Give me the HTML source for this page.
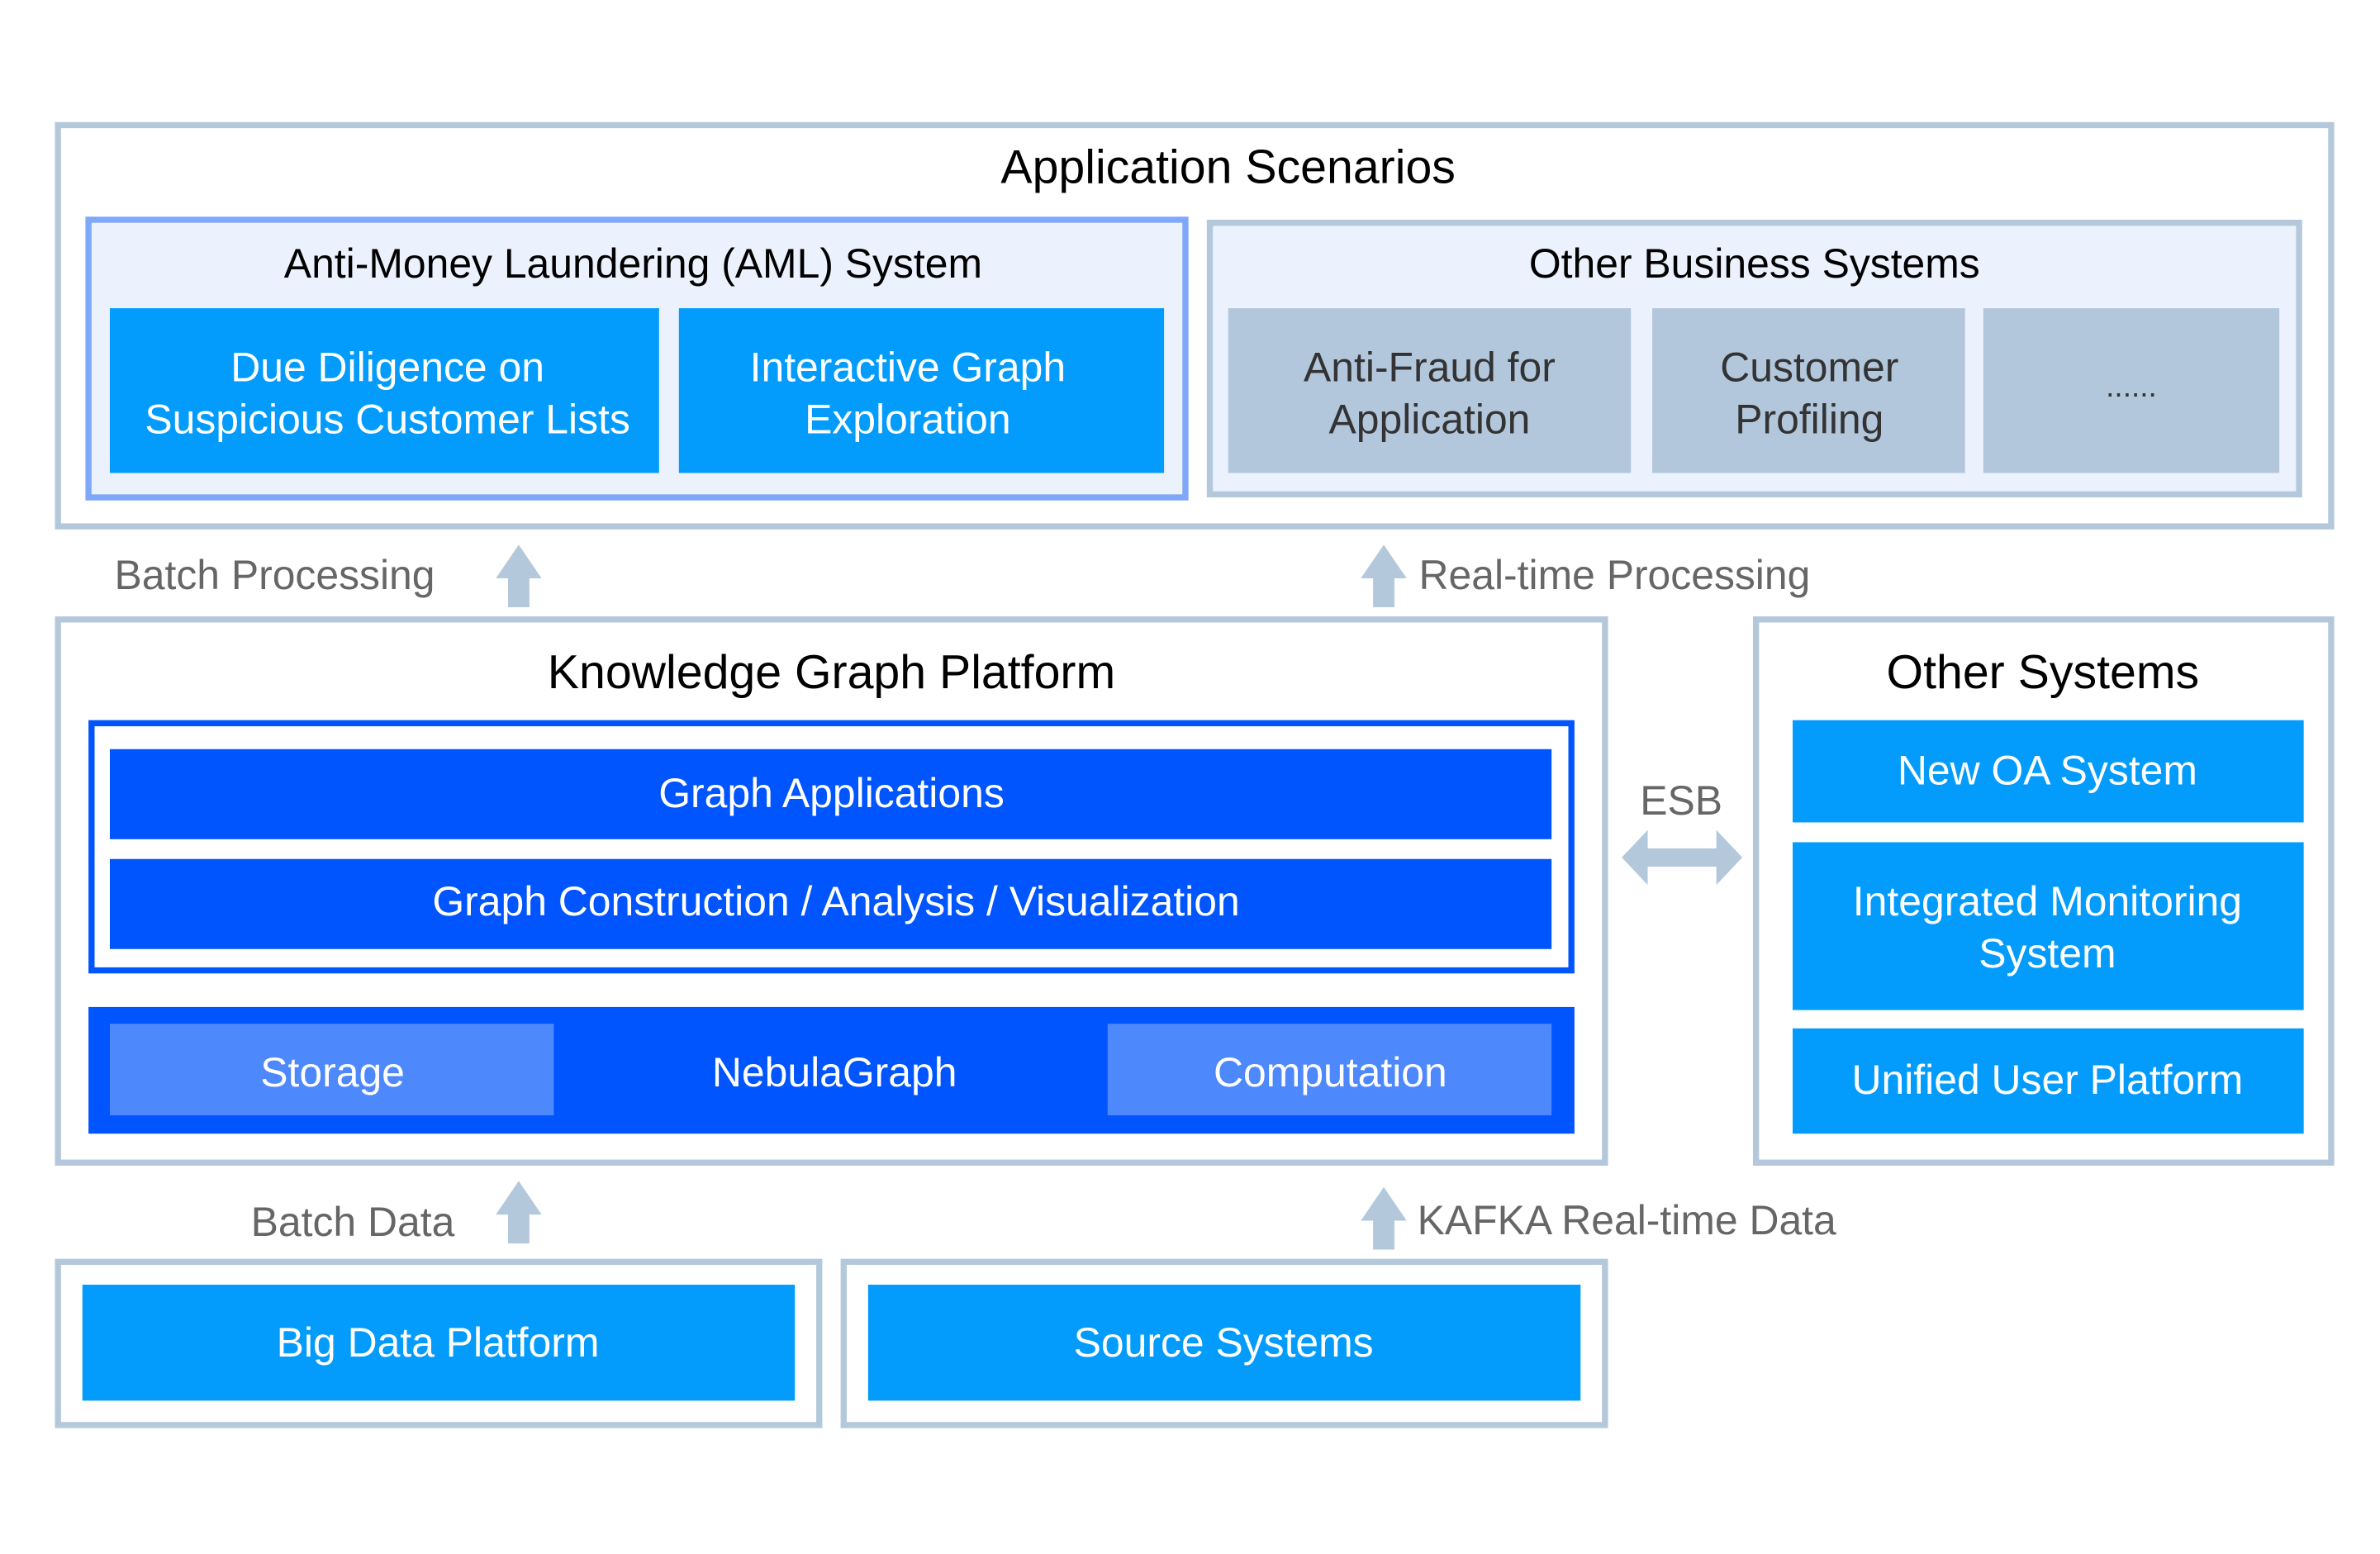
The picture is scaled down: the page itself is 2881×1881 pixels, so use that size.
<!DOCTYPE html>
<html><head><meta charset="utf-8"><style>
html,body{margin:0;padding:0;background:#fff;}
svg{display:block;}
text{font-family:"Liberation Sans",sans-serif;}
</style></head><body>
<svg width="2881" height="1881" viewBox="0 0 1560 1018.5" preserveAspectRatio="none" xmlns="http://www.w3.org/2000/svg">
<rect x="0" y="0" width="1560" height="1018.5" fill="#fff"/>
<!-- Application Scenarios -->
<rect x="38" y="82" width="1490" height="263" fill="#fff" stroke="#b4c8dc" stroke-width="4"/>
<text x="805" y="120" font-size="31" text-anchor="middle" fill="#000">Application Scenarios</text>
<rect x="58" y="144" width="719" height="182" fill="#ebf1fd" stroke="#80a8fa" stroke-width="4"/>
<text x="415" y="182" font-size="27" text-anchor="middle" fill="#000">Anti-Money Laundering (AML) System</text>
<rect x="72" y="202" width="360" height="108" fill="#039cfc"/>
<rect x="445" y="202" width="318" height="108" fill="#039cfc"/>
<g font-size="27" fill="#fff" text-anchor="middle">
<text x="254" y="250">Due Diligence on</text><text x="254" y="284">Suspicious Customer Lists</text>
<text x="595" y="250">Interactive Graph</text><text x="595" y="284">Exploration</text>
</g>
<rect x="793" y="146" width="714" height="178" fill="#ebf1fd" stroke="#b4c8dc" stroke-width="4"/>
<text x="1150" y="182" font-size="27" text-anchor="middle" fill="#000">Other Business Systems</text>
<rect x="805" y="202" width="264" height="108" fill="#b3c7dc"/>
<rect x="1083" y="202" width="205" height="108" fill="#b3c7dc"/>
<rect x="1300" y="202" width="194" height="108" fill="#b3c7dc"/>
<g font-size="27" fill="#333" text-anchor="middle">
<text x="937" y="250">Anti-Fraud for</text><text x="937" y="284">Application</text>
<text x="1186" y="250">Customer</text><text x="1186" y="284">Profiling</text>
<text x="1397" y="260" font-size="20">......</text>
</g>
<!-- processing arrows -->
<g fill="#b4c8dc">
<polygon points="340,357 355,379 347,379 347,398 333,398 333,379 325,379"/>
<polygon points="907,357 922,379 914,379 914,398 900,398 900,379 892,379"/>
<polygon points="340,774 355,796 347,796 347,815 333,815 333,796 325,796"/>
<polygon points="907,778 922,800 914,800 914,819 900,819 900,800 892,800"/>
<polygon points="1063,562 1080,544 1080,556 1125,556 1125,544 1142,562 1125,580 1125,568 1080,568 1080,580"/>
</g>
<g font-size="27" fill="#666">
<text x="75" y="386">Batch Processing</text>
<text x="930" y="386">Real-time Processing</text>
<text x="298" y="810" text-anchor="end">Batch Data</text>
<text x="929" y="809">KAFKA Real-time Data</text>
<text x="1102" y="534" text-anchor="middle">ESB</text>
</g>
<!-- Knowledge Graph Platform -->
<rect x="38" y="406" width="1014" height="356" fill="#fff" stroke="#b4c8dc" stroke-width="4"/>
<text x="545" y="451" font-size="31" text-anchor="middle" fill="#000">Knowledge Graph Platform</text>
<rect x="60" y="474" width="970" height="162" fill="#fff" stroke="#0055fc" stroke-width="4"/>
<rect x="72" y="491" width="945" height="59" fill="#0055fe"/>
<rect x="72" y="563" width="945" height="59" fill="#0055fe"/>
<rect x="58" y="660" width="974" height="83" fill="#0055fe"/>
<rect x="72" y="671" width="291" height="60" fill="#4d88fc"/>
<rect x="726" y="671" width="291" height="60" fill="#4d88fc"/>
<g font-size="27" fill="#fff" text-anchor="middle">
<text x="545" y="529">Graph Applications</text>
<text x="548" y="600">Graph Construction / Analysis / Visualization</text>
<text x="218" y="712">Storage</text>
<text x="547" y="712">NebulaGraph</text>
<text x="872" y="712">Computation</text>
</g>
<!-- Other Systems -->
<rect x="1151" y="406" width="377" height="356" fill="#fff" stroke="#b4c8dc" stroke-width="4"/>
<text x="1339" y="451" font-size="31" text-anchor="middle" fill="#000">Other Systems</text>
<rect x="1175" y="472" width="335" height="67" fill="#039cfc"/>
<rect x="1175" y="552" width="335" height="110" fill="#039cfc"/>
<rect x="1175" y="674" width="335" height="69" fill="#039cfc"/>
<g font-size="27" fill="#fff" text-anchor="middle">
<text x="1342" y="514">New OA System</text>
<text x="1342" y="600">Integrated Monitoring</text>
<text x="1342" y="634">System</text>
<text x="1342" y="717">Unified User Platform</text>
</g>
<!-- bottom -->
<rect x="38" y="827" width="499" height="107" fill="#fff" stroke="#b4c8dc" stroke-width="4"/>
<rect x="54" y="842" width="467" height="76" fill="#039cfc"/>
<rect x="553" y="827" width="499" height="107" fill="#fff" stroke="#b4c8dc" stroke-width="4"/>
<rect x="569" y="842" width="467" height="76" fill="#039cfc"/>
<g font-size="27" fill="#fff" text-anchor="middle">
<text x="287" y="889">Big Data Platform</text>
<text x="802" y="889">Source Systems</text>
</g>
</svg>
</body></html>
